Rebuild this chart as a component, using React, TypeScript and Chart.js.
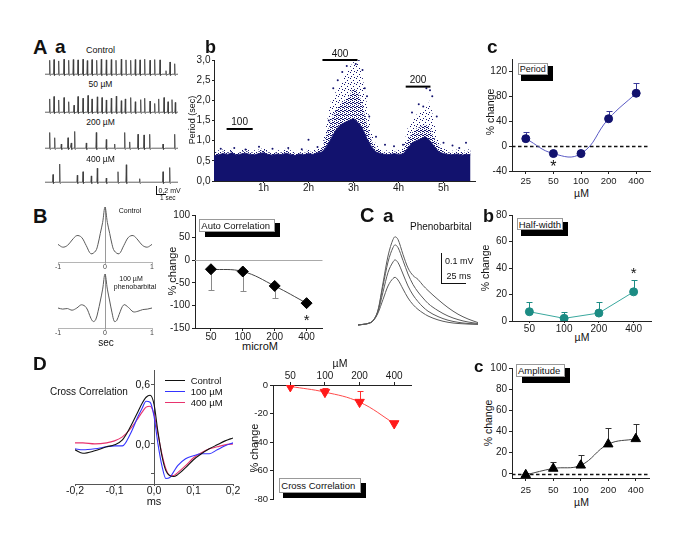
import React, { useEffect, useRef } from 'react';
import { Chart, registerables } from 'chart.js';

Chart.register(...registerables);

const FONT = "'Liberation Sans', Arial, Helvetica, sans-serif";
Chart.defaults.font.family = FONT;

// ======================= DATA =======================
// A a : spike trains (spike time in s, spike height in mV)
const traceLabels = ['Control', '50 µM', '200 µM', '400 µM'];
const traceWindowSec = 13.3;
const spikeSecControl = [0.47, 0.9, 1.37, 1.9, 2.37, 2.83, 3.3, 3.8, 4.23, 4.7, 5.17, 5.63, 6.13, 6.63, 7.1, 7.63, 8.1, 8.57, 9.03, 9.5, 9.97, 10.5, 10.97, 11.5, 12.1, 12.5, 12.97];
const spikeMvControl = [0.4, 0.42, 0.38, 0.43, 0.4, 0.42, 0.41, 0.43, 0.39, 0.42, 0.4, 0.43, 0.41, 0.42, 0.4, 0.43, 0.41, 0.4, 0.42, 0.41, 0.43, 0.4, 0.42, 0.41, 0.1, 0.35, 0.3];
const spikeSec50 = [0.47, 0.9, 1.37, 1.9, 2.37, 2.9, 3.3, 3.8, 4.3, 4.7, 5.23, 5.7, 6.13, 6.63, 7.13, 7.63, 8.03, 8.57, 9.03, 9.57, 9.97, 10.5, 10.97, 11.37, 11.9, 12.3, 12.7, 13.03];
const spikeMv50 = [0.38, 0.45, 0.35, 0.42, 0.3, 0.2, 0.45, 0.4, 0.48, 0.38, 0.44, 0.42, 0.35, 0.4, 0.46, 0.33, 0.38, 0.42, 0.3, 0.36, 0.4, 0.32, 0.25, 0.38, 0.42, 0.3, 0.36, 0.28];
const spikeSec200 = [0.47, 0.97, 1.63, 2.3, 2.63, 2.97, 4.13, 5.13, 6.13, 6.97, 7.97, 8.47, 9.3, 9.9, 10.47, 11.8, 12.97];
const spikeMv200 = [0.45, 0.3, 0.12, 0.3, 0.15, 0.48, 0.15, 0.45, 0.25, 0.12, 0.45, 0.18, 0.4, 0.38, 0.4, 0.12, 0.4];
const spikeSec400 = [0.8, 1.47, 3.23, 3.8, 4.63, 5.23, 6.13, 7.3, 8.13, 9.47, 11.8, 12.47];
const spikeMv400 = [0.22, 0.52, 0.2, 0.3, 0.18, 0.4, 0.12, 0.3, 0.5, 0.1, 0.3, 0.42];

// A b : period over time (envelopes of the dot cloud, hours / seconds)
const scanHours = [-0.1, 0, 0.1, 0.2, 0.3, 0.4, 0.5, 0.6, 0.7, 0.8, 0.9, 1, 1.1, 1.2, 1.3, 1.4, 1.5, 1.6, 1.7, 1.8, 1.9, 2, 2.1, 2.2, 2.3, 2.4, 2.5, 2.6, 2.7, 2.8, 2.9, 3, 3.1, 3.2, 3.3, 3.4, 3.5, 3.6, 3.7, 3.8, 3.9, 4, 4.1, 4.2, 4.3, 4.4, 4.5, 4.6, 4.7, 4.8, 4.9, 5, 5.1, 5.2, 5.3, 5.4, 5.5, 5.6];
const scanDenseTop = [0.62, 0.65, 0.68, 0.66, 0.7, 0.64, 0.67, 0.69, 0.66, 0.65, 0.68, 0.7, 0.66, 0.64, 0.67, 0.65, 0.69, 0.66, 0.63, 0.67, 0.65, 0.68, 0.66, 0.7, 0.72, 0.85, 1.05, 1.25, 1.38, 1.45, 1.5, 1.55, 1.45, 1.3, 1.05, 0.85, 0.72, 0.68, 0.66, 0.65, 0.68, 0.66, 0.67, 0.8, 0.95, 1.0, 1.05, 1.1, 1.0, 0.85, 0.72, 0.68, 0.66, 0.65, 0.67, 0.64, 0.66, 0.65];
const scanMidTop = [0.68, 0.71, 0.73, 0.7, 0.75, 0.69, 0.72, 0.75, 0.7, 0.71, 0.73, 0.77, 0.71, 0.69, 0.72, 0.7, 0.75, 0.71, 0.68, 0.72, 0.7, 0.74, 0.71, 0.75, 0.8, 1.15, 1.5, 1.75, 1.9, 2.0, 2.1, 2.3, 2.2, 1.9, 1.4, 1.0, 0.8, 0.73, 0.71, 0.7, 0.73, 0.71, 0.75, 1.0, 1.2, 1.3, 1.35, 1.4, 1.3, 1.05, 0.85, 0.73, 0.71, 0.7, 0.73, 0.69, 0.71, 0.75];
const scanSparseTop = [0.72, 0.76, 0.78, 0.75, 0.8, 0.74, 0.77, 0.8, 0.75, 0.76, 0.78, 0.82, 0.76, 0.74, 0.77, 0.75, 0.8, 0.76, 0.73, 0.77, 0.75, 0.79, 0.76, 0.8, 0.85, 1.4, 2.0, 2.2, 2.4, 2.6, 2.8, 2.95, 2.95, 2.6, 1.9, 1.2, 0.9, 0.8, 0.76, 0.75, 0.78, 0.76, 0.8, 1.3, 1.5, 1.65, 1.7, 1.8, 2.0, 1.4, 0.95, 0.8, 0.76, 0.75, 0.78, 0.74, 0.76, 0.8];
const scanOutliers: [number, number][] = [[0.05, 0.8], [0.35, 0.82], [0.6, 0.78], [0.9, 0.85], [1.2, 0.8], [1.55, 0.82], [1.85, 0.79], [2.0, 1.02], [2.2, 0.84], [2.45, 1.5], [2.55, 2.3], [2.65, 2.5], [2.75, 2.7], [2.85, 2.85], [2.95, 3.0], [3.05, 2.9], [3.12, 3.0], [3.2, 2.75], [3.25, 2.3], [3.3, 2.1], [3.35, 1.6], [3.5, 1.1], [3.7, 0.9], [3.9, 0.86], [4.1, 0.9], [4.3, 1.7], [4.45, 1.9], [4.55, 1.85], [4.62, 2.3], [4.7, 2.25], [4.75, 2.1], [4.85, 1.6], [5.0, 0.95], [5.2, 0.88], [5.35, 0.82], [5.5, 0.95]];
const drugLabels = ['100', '400', '200'];
const drugStartH = [0.18, 2.31, 4.16];
const drugEndH = [0.76, 3.09, 4.71];
const drugBarSec = [1.29, 3.0, 2.34];
const scanTicksSec = [0, 0.5, 1, 1.5, 2, 2.5, 3];
const scanTicksHours = [1, 2, 3, 4, 5];

// A c : period % change
const periodDoses = ['25', '50', '100', '200', '400'];
const periodPct = [12, -12, -12, 44, 85];
const periodErrTop = [22, -9, -9, 56, 102];
const periodTicks = [-40, 0, 40, 80, 120];

// B : autocorrelograms
const acTicks = [-1, 0, 1];
const acLagControl = [-1, -0.9, -0.8, -0.7, -0.6, -0.5, -0.4, -0.3, -0.2, -0.15, -0.1, -0.05, 0, 0.05, 0.1, 0.15, 0.2, 0.3, 0.4, 0.5, 0.6, 0.7, 0.8, 0.9, 1];
const acControl = [0.32, 0.27, 0.3, 0.4, 0.48, 0.45, 0.3, 0.15, 0.2, 0.32, 0.52, 0.72, 1, 0.72, 0.52, 0.32, 0.2, 0.15, 0.3, 0.45, 0.48, 0.4, 0.3, 0.27, 0.32];
const acLagPheno = [-1, -0.9, -0.8, -0.7, -0.6, -0.5, -0.4, -0.3, -0.25, -0.2, -0.15, -0.1, -0.05, 0, 0.05, 0.1, 0.15, 0.2, 0.25, 0.3, 0.4, 0.5, 0.6, 0.7, 0.8, 0.9, 1];
const acPheno = [0.37, 0.35, 0.36, 0.33, 0.37, 0.43, 0.38, 0.18, 0.12, 0.15, 0.3, 0.5, 0.72, 1, 0.72, 0.5, 0.28, 0.12, 0.14, 0.25, 0.43, 0.38, 0.3, 0.31, 0.34, 0.35, 0.37];

// B : auto correlation % change
const autoDoses = ['50', '100', '200', '400'];
const autoPct = [-20, -25, -57, -95];
const autoErrBottom = [-65, -68, -83, -97];
const autoTicks = [-150, -100, -50, 0, 50, 100];

// C a : averaged field potentials (ms, mV)
const wfMs = [0, 5, 10, 15, 20, 25, 30, 35, 37, 40, 45, 50, 55, 60, 65, 70, 80, 90, 100, 110, 120];
const wfTrace1 = [0, 0.002, 0.005, 0.015, 0.05, 0.14, 0.23, 0.285, 0.294, 0.285, 0.235, 0.19, 0.165, 0.152, 0.132, 0.115, 0.085, 0.058, 0.036, 0.02, 0.008];
const wfTrace2 = [0, 0.002, 0.005, 0.015, 0.048, 0.13, 0.21, 0.258, 0.267, 0.258, 0.215, 0.17, 0.135, 0.11, 0.09, 0.072, 0.048, 0.03, 0.018, 0.01, 0.005];
const wfTrace3 = [0, 0.002, 0.005, 0.014, 0.045, 0.11, 0.175, 0.21, 0.217, 0.208, 0.17, 0.13, 0.1, 0.078, 0.06, 0.046, 0.028, 0.016, 0.009, 0.005, 0.003];
const wfTrace4 = [0, 0.002, 0.005, 0.013, 0.04, 0.085, 0.13, 0.155, 0.159, 0.15, 0.12, 0.09, 0.068, 0.052, 0.04, 0.03, 0.017, 0.009, 0.005, 0.003, 0.002];

// C b : half-width
const halfDoses = ['50', '100', '200', '400'];
const halfPct = [7, 2, 6, 22];
const halfErrTop = [14, 7, 14, 31];
const halfTicks = [0, 20, 40, 60, 80];

// C c : amplitude
const ampDoses = ['25', '50', '100', '200', '400'];
const ampPct = [-1, 5, 8, 28, 33];
const ampErrTop = [1, 11, 18, 43, 47];
const ampTicks = [0, 20, 40, 60, 80, 100];

// D : cross correlation
const ccSeriesNames = ['Control', '100 µM', '400 µM'];
const ccLagMs = [-0.2, -0.18, -0.15, -0.12, -0.1, -0.08, -0.06, -0.04, -0.03, -0.02, -0.01, 0, 0.01, 0.02, 0.03, 0.04, 0.05, 0.06, 0.08, 0.1, 0.12, 0.14, 0.16, 0.18, 0.2];
const ccControl = [-0.06, -0.095, -0.07, -0.03, -0.01, 0.04, 0.17, 0.33, 0.41, 0.47, 0.49, 0.4, 0.12, -0.12, -0.27, -0.32, -0.33, -0.31, -0.24, -0.16, -0.1, -0.05, -0.01, 0.03, 0.06];
const cc100 = [-0.05, -0.06, -0.05, -0.03, -0.02, -0.02, 0.1, 0.28, 0.36, 0.43, 0.42, 0.28, 0.0, -0.22, -0.35, -0.34, -0.28, -0.22, -0.15, -0.12, -0.1, -0.1, -0.06, -0.02, 0.01];
const cc400 = [0.01, 0.01, 0.0, 0.01, 0.03, 0.07, 0.15, 0.26, 0.32, 0.37, 0.38, 0.3, 0.1, -0.1, -0.25, -0.32, -0.32, -0.29, -0.22, -0.14, -0.09, -0.05, -0.03, -0.01, 0.0];
const ccXTicks = [-0.2, -0.1, 0, 0.1, 0.2];
const ccYTicks = [0.6, 0, -0.3];
const ccYLabelled = [0.6, 0];

const xcDoses = ['50', '100', '200', '400'];
const xcPct = [-1, -5, -12, -27];
const xcErrTop = [0, -2, -4, -25];
const xcTicks = [-80, -60, -40, -20, 0];

// ======================= STYLE =======================
const NAVY = '#12126e';
const CC_COLORS = ['#111111', '#3434ff', '#e8336e'];

// ======================= HELPERS =======================
type Area = { l: number; t: number; r: number; b: number };
type Pad = { l: number; t: number; r: number; b: number };

const comma = (v: any) => Number(v).toFixed(1).replace('.', ',');
const fixTicks = (vals: number[]) => (s: any) => { s.ticks = vals.map((v) => ({ value: v })); };
const yFit = (w: number) => (s: any) => { s.width = w; };
const xFit = (h: number) => (s: any) => { s.height = h; };

function ax(o: any) {
  const { color = '#222', font = 10, tl = 3, tp = 2, fit, ticks = {}, ...rest } = o;
  return {
    ...rest,
    afterFit: fit,
    border: { display: true, color, width: 1 },
    grid: { display: true, drawOnChartArea: false, drawTicks: true, tickLength: tl, color, lineWidth: 1 },
    ticks: { color: '#1a1a1a', font: { size: font, family: FONT }, padding: tp, maxRotation: 0, minRotation: 0, autoSkip: false, ...ticks },
  };
}

type DTxt = { x: number; y: number; text: string; size: number; dx?: number; dy?: number; align?: CanvasTextAlign; star?: boolean; color?: string };
type DSeg = { x1: number; x2: number; y: number; width: number; color: string };

function deco(o: { zero?: { color: string; dash: number[]; width: number }; texts?: DTxt[]; segs?: DSeg[] }) {
  return {
    id: 'deco',
    beforeDatasetsDraw(chart: any) {
      const { ctx, chartArea: a, scales } = chart;
      const ys = scales.y;
      if (o.zero) {
        const y = Math.round(ys.getPixelForValue(0)) + 0.5;
        ctx.save();
        ctx.strokeStyle = o.zero.color;
        ctx.lineWidth = o.zero.width;
        ctx.setLineDash(o.zero.dash);
        ctx.beginPath();
        ctx.moveTo(a.left, y);
        ctx.lineTo(a.right, y);
        ctx.stroke();
        ctx.restore();
      }
      chart.data.datasets.forEach((ds: any, i: number) => {
        if (!ds.errTo) return;
        const meta = chart.getDatasetMeta(i);
        ctx.save();
        ctx.strokeStyle = ds.errColor || '#000';
        ctx.lineWidth = 1;
        meta.data.forEach((el: any, j: number) => {
          const e = ds.errTo[j];
          if (e == null) return;
          const x = Math.round(el.x) + 0.5;
          const y1 = Math.round(ys.getPixelForValue(e)) + 0.5;
          ctx.beginPath();
          ctx.moveTo(x, el.y);
          ctx.lineTo(x, y1);
          ctx.moveTo(x - 3, y1);
          ctx.lineTo(x + 3, y1);
          ctx.stroke();
        });
        ctx.restore();
      });
    },
    afterDatasetsDraw(chart: any) {
      const { ctx, scales } = chart;
      const xs = scales.x;
      const ys = scales.y;
      (o.segs || []).forEach((s) => {
        const y = ys.getPixelForValue(s.y);
        ctx.save();
        ctx.strokeStyle = s.color;
        ctx.lineWidth = s.width;
        ctx.beginPath();
        ctx.moveTo(xs.getPixelForValue(s.x1), y);
        ctx.lineTo(xs.getPixelForValue(s.x2), y);
        ctx.stroke();
        ctx.restore();
      });
      (o.texts || []).forEach((t) => {
        ctx.save();
        ctx.fillStyle = t.color || '#111';
        ctx.font = `${t.size}px ${FONT}`;
        ctx.textAlign = t.align || 'center';
        ctx.textBaseline = 'alphabetic';
        const dy = (t.dy || 0) + (t.star ? 0.575 * t.size : 0);
        ctx.fillText(t.text, xs.getPixelForValue(t.x) + (t.dx || 0), ys.getPixelForValue(t.y) + dy);
        ctx.restore();
      });
    },
  };
}

function dotPattern(ctx: CanvasRenderingContext2D, color: string, dots: number[][], size: number) {
  const c = document.createElement('canvas');
  c.width = size;
  c.height = size;
  const g = c.getContext('2d')!;
  g.fillStyle = color;
  dots.forEach(([x, y]) => g.fillRect(x, y, 1, 1));
  return ctx.createPattern(c, 'repeat');
}

function spikeTrain(times: number[], heights: number[]) {
  const pts: { x: number; y: number }[] = [{ x: 0, y: 0 }];
  times.forEach((t, i) => {
    pts.push({ x: t - 0.05, y: 0 }, { x: t, y: heights[i] }, { x: t + 0.04, y: -0.035 }, { x: t + 0.2, y: 0 });
  });
  pts.push({ x: traceWindowSec, y: 0 });
  return pts;
}

const xy = (xs: number[], ys: number[]) => xs.map((x, i) => ({ x, y: ys[i] }));

function ChartPanel({ area, yw = 0, xh = 0, xTop = false, pad = { l: 0, t: 0, r: 0, b: 0 }, make }: { area: Area; yw?: number; xh?: number; xTop?: boolean; pad?: Pad; make: (ctx: CanvasRenderingContext2D) => any }) {
  const ref = useRef<HTMLCanvasElement | null>(null);
  const left = Math.round(area.l - yw - pad.l);
  const top = Math.round(area.t - pad.t - (xTop ? xh : 0));
  const width = Math.round(area.r - area.l + yw + pad.l + pad.r);
  const height = Math.round(area.b - area.t + xh + pad.t + pad.b);
  useEffect(() => {
    const canvas = ref.current;
    if (!canvas) return;
    const cfg = make(canvas.getContext('2d')!);
    const userOpts = cfg.options || {};
    cfg.options = {
      responsive: false,
      maintainAspectRatio: false,
      animation: false,
      devicePixelRatio: 1,
      events: [],
      layout: { padding: { left: pad.l, right: pad.r, top: pad.t, bottom: pad.b } },
      ...userOpts,
      plugins: { legend: { display: false }, tooltip: { enabled: false }, ...(userOpts.plugins || {}) },
    };
    const chart = new Chart(canvas, cfg);
    return () => chart.destroy();
  }, []);
  return <canvas ref={ref} width={width} height={height} style={{ position: 'absolute', left, top, width, height }} />;
}

function T({ x, y, s, b = false, a = 'start', c = '#111', children }: any) {
  const shift = a === 'middle' ? 'translateX(-50%)' : a === 'end' ? 'translateX(-100%)' : undefined;
  return (
    <div style={{ position: 'absolute', left: x, top: y - 0.8465 * s, fontSize: s, lineHeight: `${s}px`, height: s, fontWeight: b ? 700 : 400, color: c, whiteSpace: 'nowrap', transform: shift, fontFamily: FONT }}>
      {children}
    </div>
  );
}

function VT({ cx, cy, s, children }: any) {
  return (
    <div style={{ position: 'absolute', left: cx, top: cy, fontSize: s, lineHeight: `${s}px`, whiteSpace: 'nowrap', transform: 'translate(-50%, -50%) rotate(-90deg)', fontFamily: FONT, color: '#111' }}>
      {children}
    </div>
  );
}

function Ln({ x1, y1, x2, y2, c = '#111', w = 1 }: any) {
  if (y1 === y2) return <div style={{ position: 'absolute', left: x1, top: y1 - w / 2, width: x2 - x1, height: w, background: c }} />;
  return <div style={{ position: 'absolute', left: x1 - w / 2, top: y1, width: w, height: y2 - y1, background: c }} />;
}

function Tag({ w, k, text, s }: { w: number[]; k: number[]; text: string; s: number }) {
  return (
    <>
      <div style={{ position: 'absolute', left: k[0], top: k[1], width: k[2], height: k[3], background: '#000' }} />
      <div style={{ position: 'absolute', left: w[0], top: w[1], width: w[2], height: w[3], background: '#fff', border: '1px solid #999', boxSizing: 'border-box' }} />
      <T x={w[0] + 2} y={w[1] + w[3] / 2 + 0.36 * s} s={s}>{text}</T>
    </>
  );
}

const DASH0 = { color: '#111', dash: [3.5, 2.5], width: 1.3 };

// ======================= APP =======================
export default function App() {
  const traces = [
    { times: spikeSecControl, mv: spikeMvControl, base: 74 },
    { times: spikeSec50, mv: spikeMv50, base: 112 },
    { times: spikeSec200, mv: spikeMv200, base: 148 },
    { times: spikeSec400, mv: spikeMv400, base: 182 },
  ];
  const traceLabelBase = [54, 87.5, 125, 162];

  return (
    <div style={{ position: 'fixed', left: 0, top: 0, width: 685, height: 540, background: '#fff', overflow: 'hidden', fontFamily: FONT }}>
      {/* ---------- A a ---------- */}
      <T x={33} y={54} s={20} b>A</T>
      <T x={55} y={53} s={19} b>a</T>
      {traces.map((tr, i) => (
        <ChartPanel
          key={'tr' + i}
          area={{ l: 45, r: 178, t: tr.base - 19.2, b: tr.base + 2.8 }}
          make={() => ({
            type: 'line',
            data: { datasets: [{ data: spikeTrain(tr.times, tr.mv), borderColor: '#3c3c3c', borderWidth: 0.8, pointRadius: 0, tension: 0 }] },
            options: { scales: { x: { type: 'linear', display: false, min: 0, max: traceWindowSec }, y: { display: false, min: -0.08, max: 0.55 } } },
          })}
        />
      ))}
      {traceLabels.map((lb, i) => (
        <T key={'tl' + i} x={100.5} y={traceLabelBase[i]} s={i === 0 ? 9 : 8.5} a="middle">{lb}</T>
      ))}
      <Ln x1={156} y1={186} x2={156} y2={194} />
      <Ln x1={156} y1={194} x2={166} y2={194} />
      <T x={158.5} y={193} s={7}>0,2 mV</T>
      <T x={160} y={201} s={6.5}>1 sec</T>

      {/* ---------- A b ---------- */}
      <T x={205} y={53} s={18} b>b</T>
      <VT cx={191.5} cy={120} s={9}>Period (sec)</VT>
      <ChartPanel
        area={{ l: 213.5, t: 60, r: 474.5, b: 181 }}
        yw={22}
        xh={16}
        pad={{ l: 4, t: 12, r: 8, b: 2 }}
        make={(ctx) => {
          const midPat = dotPattern(ctx, NAVY, [[0, 0], [2, 1], [1, 2], [3, 3], [0, 2], [2, 3]], 4);
          const sparsePat = dotPattern(ctx, NAVY, [[0, 0], [3, 2], [1, 4], [4, 5]], 6);
          return {
            type: 'line',
            data: {
              datasets: [
                { data: xy(scanHours, scanDenseTop), fill: 'origin', backgroundColor: NAVY, borderColor: NAVY, borderWidth: 0.8, pointRadius: 0, tension: 0 },
                { data: xy(scanHours, scanMidTop), fill: '-1', backgroundColor: midPat, borderColor: 'rgba(0,0,0,0)', borderWidth: 1, pointRadius: 0, tension: 0 },
                { data: xy(scanHours, scanSparseTop), fill: '-1', backgroundColor: sparsePat, borderColor: 'rgba(0,0,0,0)', borderWidth: 1, pointRadius: 0, tension: 0 },
                { data: scanOutliers.map(([x, y]) => ({ x, y })), showLine: false, pointRadius: 1, pointBorderWidth: 0, pointBackgroundColor: NAVY },
              ],
            },
            options: {
              scales: {
                x: ax({ type: 'linear', min: -0.1, max: 5.7, afterBuildTicks: fixTicks(scanTicksHours), fit: xFit(16), font: 10, tl: 2, tp: -1, ticks: { callback: (v: any) => `${v}h` } }),
                y: ax({ min: 0, max: 3, afterBuildTicks: fixTicks(scanTicksSec), fit: yFit(22), font: 10, tl: 2, tp: 1.5, ticks: { callback: comma } }),
              },
            },
            plugins: [
              deco({
                segs: drugLabels.map((_, i) => ({ x1: drugStartH[i], x2: drugEndH[i], y: drugBarSec[i], width: 2, color: '#000' })),
                texts: drugLabels.map((lb, i) => ({ x: (drugStartH[i] + drugEndH[i]) / 2, y: drugBarSec[i], text: lb, size: 10, dy: -3.5 })),
              }),
            ],
          };
        }}
      />

      {/* ---------- A c ---------- */}
      <T x={487} y={53} s={19} b>c</T>
      <VT cx={490} cy={112} s={10.5}>% change</VT>
      <T x={581.5} y={197} s={10.5} a="middle">µM</T>
      <ChartPanel
        area={{ l: 512, t: 59, r: 651, b: 171 }}
        yw={24}
        xh={15}
        pad={{ l: 2, t: 8, r: 4, b: 2 }}
        make={() => ({
          type: 'line',
          data: {
            labels: periodDoses,
            datasets: [{ data: periodPct, errTo: periodErrTop, errColor: '#3a3a9a', borderColor: '#5a5ac4', borderWidth: 1, tension: 0.45, pointRadius: 4, pointBackgroundColor: NAVY, pointBorderColor: NAVY }],
          },
          options: {
            scales: {
              x: ax({ type: 'category', offset: true, fit: xFit(15), font: 9.5 }),
              y: ax({ min: -40, max: 140, afterBuildTicks: fixTicks(periodTicks), fit: yFit(24), font: 10 }),
            },
          },
          plugins: [deco({ zero: DASH0, texts: [{ x: 1, y: -27, text: '*', size: 16, star: true }] })],
        })}
      />
      <Tag w={[517.7, 63.3, 30.6, 11.7]} k={[520.7, 66, 32, 14.7]} text="Period" s={9} />

      {/* ---------- B left ---------- */}
      <T x={33} y={223} s={20} b>B</T>
      {[{ lag: acLagControl, v: acControl, t: 207, b: 262 }, { lag: acLagPheno, v: acPheno, t: 274, b: 328 }].map((p, i) => (
        <ChartPanel
          key={'ac' + i}
          area={{ l: 58, t: p.t, r: 152, b: p.b }}
          xh={11}
          pad={{ l: 6, t: 2, r: 6, b: 1 }}
          make={() => ({
            type: 'line',
            data: { datasets: [{ data: xy(p.lag, p.v), borderColor: '#5a5a5a', borderWidth: 1, pointRadius: 0, tension: 0.35 }] },
            options: {
              scales: {
                x: ax({ type: 'linear', min: -1, max: 1, afterBuildTicks: fixTicks(acTicks), fit: xFit(11), font: 7, tl: 2, tp: -1, color: '#b5b5b5', ticks: { color: '#444' } }),
                y: { min: 0, max: 1, position: { x: 0 }, border: { display: true, color: '#9a9a9a', width: 1 }, grid: { display: false }, ticks: { display: false } },
              },
            },
          })}
        />
      ))}
      <T x={130} y={212.5} s={7} a="middle">Control</T>
      <T x={131} y={281} s={7} a="middle">100 µM</T>
      <T x={135} y={289} s={7} a="middle">phenobarbital</T>
      <T x={106} y={346} s={10} a="middle">sec</T>

      {/* ---------- B right ---------- */}
      <VT cx={172} cy={271} s={11}>% change</VT>
      <T x={260} y={350} s={11} a="middle">microM</T>
      <ChartPanel
        area={{ l: 195, t: 215, r: 325, b: 328 }}
        yw={26}
        xh={14}
        pad={{ l: 2, t: 8, r: 4, b: 2 }}
        make={() => ({
          type: 'line',
          data: {
            labels: autoDoses,
            datasets: [{ data: autoPct, errTo: autoErrBottom, errColor: '#8a8a8a', borderColor: '#444', borderWidth: 1, tension: 0.4, pointStyle: 'rectRot', pointRadius: 5.5, pointBackgroundColor: '#000', pointBorderColor: '#000' }],
          },
          options: {
            scales: {
              x: ax({ type: 'category', offset: true, fit: xFit(14), font: 10, tl: 3, tp: 0 }),
              y: ax({ min: -150, max: 100, afterBuildTicks: fixTicks(autoTicks), fit: yFit(26), font: 10 }),
            },
          },
          plugins: [deco({ zero: { color: '#aaaaaa', dash: [], width: 1 }, texts: [{ x: 3, y: -124, text: '*', size: 15, star: true }] })],
        })}
      />
      <Tag w={[199.3, 219.3, 75.7, 13]} k={[205, 223.3, 75, 13.4]} text="Auto Correlation" s={9.5} />

      {/* ---------- C a ---------- */}
      <T x={360} y={222} s={20} b>C</T>
      <T x={383} y={222} s={19} b>a</T>
      <ChartPanel
        area={{ l: 358, t: 230, r: 482, b: 330 }}
        make={() => ({
          type: 'line',
          data: {
            datasets: [wfTrace1, wfTrace2, wfTrace3, wfTrace4].map((w) => ({ data: xy(wfMs, w), borderColor: '#5a5a5a', borderWidth: 1, pointRadius: 0, cubicInterpolationMode: 'monotone' })),
          },
          options: { scales: { x: { type: 'linear', display: false, min: 0, max: 124 }, y: { display: false, min: -0.0167, max: 0.3167 } } },
        })}
      />
      <T x={410} y={230} s={10}>Phenobarbital</T>
      <Ln x1={441} y1={253} x2={441} y2={283} />
      <Ln x1={441} y1={283} x2={466} y2={283} />
      <T x={445} y={265} s={9}>0.1 mV</T>
      <T x={446.5} y={280} s={9}>25 ms</T>

      {/* ---------- C b ---------- */}
      <T x={483} y={222} s={18} b>b</T>
      <VT cx={485} cy={268} s={10.5}>% change</VT>
      <T x={582} y={341} s={10.5} a="middle">µM</T>
      <ChartPanel
        area={{ l: 512, t: 215, r: 652, b: 321 }}
        yw={22}
        xh={14}
        pad={{ l: 2, t: 8, r: 4, b: 2 }}
        make={() => ({
          type: 'line',
          data: {
            labels: halfDoses,
            datasets: [{ data: halfPct, errTo: halfErrTop, errColor: '#1c8c84', borderColor: '#3aa89e', borderWidth: 1, tension: 0, pointRadius: 4, pointBackgroundColor: '#1c8c84', pointBorderColor: '#1c8c84' }],
          },
          options: {
            scales: {
              x: ax({ type: 'category', offset: true, fit: xFit(14), font: 10, tl: 2, tp: 0 }),
              y: ax({ min: 0, max: 80, afterBuildTicks: fixTicks(halfTicks), fit: yFit(22), font: 10 }),
            },
          },
          plugins: [deco({ texts: [{ x: 3, y: 39, text: '*', size: 15, star: true }] })],
        })}
      />
      <Tag w={[516.7, 218.3, 46.6, 11.7]} k={[520.7, 221.7, 47.6, 14.3]} text="Half-width" s={9.5} />

      {/* ---------- C c ---------- */}
      <T x={474} y={372} s={17} b>c</T>
      <VT cx={487.5} cy={423} s={10.5}>% change</VT>
      <T x={581.5} y={505.5} s={10.5} a="middle">µM</T>
      <ChartPanel
        area={{ l: 512, t: 368, r: 652, b: 478 }}
        yw={24}
        xh={16}
        pad={{ l: 2, t: 8, r: 4, b: 2 }}
        make={() => ({
          type: 'line',
          data: {
            labels: ampDoses,
            datasets: [{ data: ampPct, errTo: ampErrTop, errColor: '#333', borderColor: '#444', borderWidth: 1, tension: 0.4, pointStyle: 'triangle', pointRadius: 5.5, pointBackgroundColor: '#000', pointBorderColor: '#000' }],
          },
          options: {
            scales: {
              x: ax({ type: 'category', offset: true, fit: xFit(16), font: 9.5, tl: 3, tp: 3.5 }),
              y: ax({ min: -4, max: 100, afterBuildTicks: fixTicks(ampTicks), fit: yFit(24), font: 10 }),
            },
          },
          plugins: [deco({ zero: DASH0 })],
        })}
      />
      <Tag w={[516, 364, 49, 13.3]} k={[521.7, 368.3, 48.3, 14.4]} text="Amplitude" s={9.5} />

      {/* ---------- D left ---------- */}
      <T x={33} y={370} s={19} b>D</T>
      <T x={50} y={395} s={10}>Cross Correlation</T>
      <ChartPanel
        area={{ l: 75, t: 370, r: 233, b: 484 }}
        xh={15}
        pad={{ l: 12, t: 8, r: 12, b: 2 }}
        make={() => ({
          type: 'line',
          data: {
            datasets: [ccControl, cc100, cc400].map((s, i) => ({ data: xy(ccLagMs, s), borderColor: CC_COLORS[i], borderWidth: 1.1, pointRadius: 0, cubicInterpolationMode: 'monotone' })),
          },
          options: {
            scales: {
              x: ax({ type: 'linear', min: -0.2, max: 0.2, afterBuildTicks: fixTicks(ccXTicks), fit: xFit(15), font: 10.5, tl: 2, tp: -1.5, color: '#555', ticks: { callback: comma } }),
              y: { min: -0.405, max: 0.745, position: { x: 0 }, afterBuildTicks: fixTicks(ccYTicks), border: { display: true, color: '#555', width: 1 }, grid: { display: true, drawOnChartArea: false, drawTicks: true, tickLength: 3, color: '#555' }, ticks: { display: false } },
            },
          },
          plugins: [deco({ texts: ccYLabelled.map((v) => ({ x: 0, y: v, text: comma(v), size: 10.5, align: 'right' as CanvasTextAlign, dx: -4, dy: 3.8 })) })],
        })}
      />
      {ccSeriesNames.map((nm, i) => (
        <React.Fragment key={'lg' + i}>
          <Ln x1={165} y1={380 + i * 11.2} x2={185} y2={380 + i * 11.2} c={CC_COLORS[i]} />
          <T x={190.7} y={383.6 + i * 11.2} s={9.5}>{nm}</T>
        </React.Fragment>
      ))}
      <T x={154} y={505} s={11} a="middle">ms</T>

      {/* ---------- D right ---------- */}
      <VT cx={253.5} cy={448} s={11}>% change</VT>
      <T x={340} y={367} s={10.5} a="middle">µM</T>
      <ChartPanel
        area={{ l: 273, t: 385, r: 412, b: 499 }}
        yw={25}
        xh={14}
        xTop
        pad={{ l: 2, t: 2, r: 6, b: 8 }}
        make={() => ({
          type: 'line',
          data: {
            labels: xcDoses,
            datasets: [{ data: xcPct, errTo: xcErrTop, errColor: '#ff3030', borderColor: '#ff4a4a', borderWidth: 1, tension: 0.4, pointStyle: 'triangle', pointRotation: 180, pointRadius: 5.5, pointBackgroundColor: '#ff1a1a', pointBorderColor: '#ff1a1a' }],
          },
          options: {
            scales: {
              x: ax({ type: 'category', position: 'top', offset: true, fit: xFit(14), font: 10, tl: 3, tp: 0 }),
              y: ax({ min: -80, max: 0, afterBuildTicks: fixTicks(xcTicks), fit: yFit(25), font: 9.5 }),
            },
          },
          plugins: [deco({})],
        })}
      />
      <Tag w={[279.3, 478.3, 81.4, 15]} k={[283.3, 483.3, 82.7, 15]} text="Cross Correlation" s={9.5} />
    </div>
  );
}
